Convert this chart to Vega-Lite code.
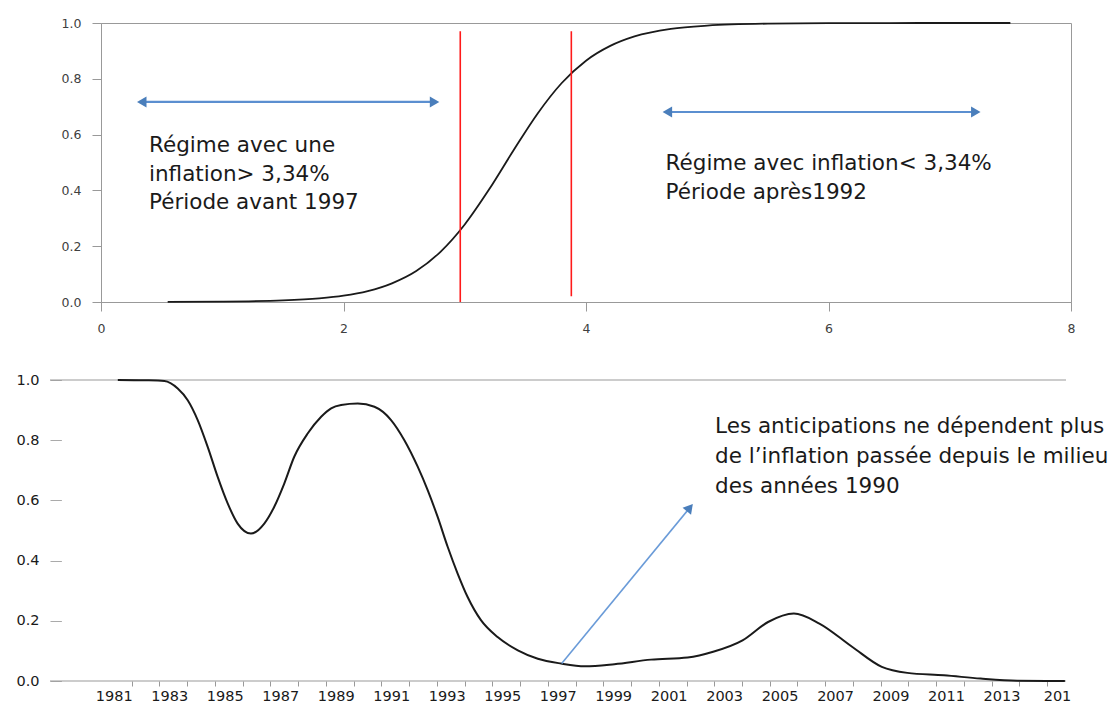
{
  "$schema": "https://vega.github.io/schema/vega-lite/v6.json",
  "background": "white",
  "padding": {"left": 5, "top": 16, "right": 0, "bottom": 0},
  "spacing": 37,
  "config": {
    "font": "DejaVu Sans",
    "axis": {"grid": false, "title": null, "labelFont": "DejaVu Sans"}
  },
  "datasets": {
    "sigmoid": [
      {"x": 0.55, "p": 0.0004}, {"x": 1.0, "p": 0.0014}, {"x": 1.5, "p": 0.0057},
      {"x": 1.8, "p": 0.013}, {"x": 2.0, "p": 0.0225}, {"x": 2.2, "p": 0.039},
      {"x": 2.4, "p": 0.067}, {"x": 2.6, "p": 0.111}, {"x": 2.8, "p": 0.18},
      {"x": 3.0, "p": 0.278}, {"x": 3.2, "p": 0.403}, {"x": 3.4, "p": 0.542},
      {"x": 3.6, "p": 0.675}, {"x": 3.8, "p": 0.785}, {"x": 4.0, "p": 0.865},
      {"x": 4.2, "p": 0.918}, {"x": 4.4, "p": 0.952}, {"x": 4.7, "p": 0.979},
      {"x": 5.0, "p": 0.9907}, {"x": 5.5, "p": 0.9977}, {"x": 6.0, "p": 0.9994},
      {"x": 6.5, "p": 0.9999}, {"x": 7.0, "p": 1.0}, {"x": 7.5, "p": 1.0}
    ],
    "thresholds": [
      {"x": 2.963, "y0": 0.0, "y1": 0.97},
      {"x": 3.879, "y0": 0.021, "y1": 0.97}
    ],
    "topArrows": [
      {"x0": 0.336, "x1": 2.751, "y": 0.717},
      {"x0": 4.671, "x1": 7.215, "y": 0.681}
    ],
    "topHeads": [
      {"x": 0.336, "y": 0.717, "dir": "left"},
      {"x": 2.751, "y": 0.717, "dir": "right"},
      {"x": 4.671, "y": 0.681, "dir": "left"},
      {"x": 7.215, "y": 0.681, "dir": "right"}
    ],
    "topText": [
      {"x": 0.396, "y": 0.538, "label": "Régime avec une\ninflation> 3,34%\nPériode avant 1997"},
      {"x": 4.656, "y": 0.473, "label": "Régime avec inflation< 3,34%\nPériode après1992"}
    ],
    "prob": [
      {"year": 1981.0, "p": 1.0}, {"year": 1982.0, "p": 0.999}, {"year": 1982.68, "p": 0.997},
      {"year": 1983.16, "p": 0.972}, {"year": 1983.52, "p": 0.933}, {"year": 1983.88, "p": 0.867},
      {"year": 1984.24, "p": 0.778}, {"year": 1984.6, "p": 0.678}, {"year": 1984.96, "p": 0.59},
      {"year": 1985.32, "p": 0.523}, {"year": 1985.8, "p": 0.49}, {"year": 1986.28, "p": 0.523},
      {"year": 1986.64, "p": 0.579}, {"year": 1987.0, "p": 0.656}, {"year": 1987.36, "p": 0.745},
      {"year": 1987.85, "p": 0.823}, {"year": 1988.33, "p": 0.878}, {"year": 1988.69, "p": 0.906},
      {"year": 1989.05, "p": 0.917}, {"year": 1989.65, "p": 0.922}, {"year": 1990.25, "p": 0.911},
      {"year": 1990.85, "p": 0.867}, {"year": 1991.33, "p": 0.8}, {"year": 1991.81, "p": 0.712},
      {"year": 1992.17, "p": 0.634}, {"year": 1992.53, "p": 0.545}, {"year": 1992.89, "p": 0.446},
      {"year": 1993.25, "p": 0.357}, {"year": 1993.61, "p": 0.279}, {"year": 1994.09, "p": 0.202},
      {"year": 1994.69, "p": 0.146}, {"year": 1995.42, "p": 0.102}, {"year": 1996.14, "p": 0.074},
      {"year": 1996.98, "p": 0.058}, {"year": 1997.84, "p": 0.049}, {"year": 1998.9, "p": 0.056},
      {"year": 2000.22, "p": 0.071}, {"year": 2001.54, "p": 0.078}, {"year": 2002.46, "p": 0.097},
      {"year": 2003.52, "p": 0.135}, {"year": 2004.44, "p": 0.196}, {"year": 2005.37, "p": 0.224},
      {"year": 2006.29, "p": 0.191}, {"year": 2007.48, "p": 0.113}, {"year": 2008.54, "p": 0.047},
      {"year": 2009.46, "p": 0.027}, {"year": 2010.78, "p": 0.019}, {"year": 2012.1, "p": 0.008},
      {"year": 2013.42, "p": 0.001}, {"year": 2015.14, "p": 0.0}
    ],
    "hlines": [
      {"x0": 1978.556, "x1": 2015.18, "y": 1},
      {"x0": 1978.556, "x1": 2015.18, "y": 0}
    ],
    "bottomArrow": [{"x0": 1997.0, "y0": 0.058, "x1": 2001.62, "y1": 0.576}],
    "bottomHead": [{"x": 2001.62, "y": 0.576}],
    "bottomText": [
      {"x": 2002.53, "y": 0.825, "label": "Les anticipations ne dépendent plus\nde l’inflation passée depuis le milieu\ndes années 1990"}
    ]
  },
  "vconcat": [
    {
      "width": 970,
      "height": 279,
      "view": {"stroke": "#999999", "strokeWidth": 1},
      "layer": [
        {
          "data": {"name": "sigmoid"},
          "mark": {"type": "line", "color": "#1a1a1a", "strokeWidth": 1.8, "interpolate": "monotone"},
          "encoding": {
            "x": {
              "field": "x", "type": "quantitative",
              "scale": {"domain": [0, 8], "nice": false, "zero": false},
              "axis": {
                "values": [0, 2, 4, 6, 8], "format": "d",
                "tickSize": 9, "tickColor": "#999999", "domainColor": "#999999",
                "labelFontSize": 12.5, "labelColor": "#404040", "labelPadding": 11,
                "labelFlush": false
              }
            },
            "y": {
              "field": "p", "type": "quantitative",
              "scale": {"domain": [0, 1], "nice": false},
              "axis": {
                "values": [0, 0.2, 0.4, 0.6, 0.8, 1.0], "format": ".1f",
                "tickSize": 9, "tickColor": "#999999", "domainColor": "#999999",
                "labelFontSize": 12.5, "labelColor": "#404040", "labelPadding": 11,
                "minExtent": 95, "maxExtent": 95
              }
            }
          }
        },
        {
          "data": {"name": "thresholds"},
          "mark": {"type": "rule", "color": "#ff1a1a", "strokeWidth": 1.6},
          "encoding": {
            "x": {"field": "x", "type": "quantitative"},
            "y": {"field": "y0", "type": "quantitative"},
            "y2": {"field": "y1"}
          }
        },
        {
          "data": {"name": "topArrows"},
          "mark": {"type": "rule", "color": "#5b8fd0", "strokeWidth": 2.2},
          "encoding": {
            "x": {"field": "x0", "type": "quantitative"},
            "x2": {"field": "x1"},
            "y": {"field": "y", "type": "quantitative"}
          }
        },
        {
          "data": {"name": "topHeads"},
          "mark": {"type": "point", "filled": true, "color": "#4a7ebb", "size": 120, "opacity": 1},
          "encoding": {
            "x": {"field": "x", "type": "quantitative"},
            "y": {"field": "y", "type": "quantitative"},
            "shape": {
              "field": "dir", "type": "nominal",
              "scale": {"domain": ["left", "right"], "range": ["triangle-left", "triangle-right"]},
              "legend": null
            }
          }
        },
        {
          "data": {"name": "topText"},
          "mark": {
            "type": "text", "align": "left", "baseline": "alphabetic",
            "font": "DejaVu Sans", "fontSize": 21.5, "color": "#1a1a1a",
            "lineBreak": "\n", "lineHeight": 28.8
          },
          "encoding": {
            "x": {"field": "x", "type": "quantitative"},
            "y": {"field": "y", "type": "quantitative"},
            "text": {"field": "label"}
          }
        }
      ]
    },
    {
      "width": 965,
      "height": 301,
      "view": {"stroke": null},
      "resolve": {"scale": {"x": "shared", "y": "shared"}, "axis": {"x": "independent"}},
      "layer": [
        {
          "data": {"name": "hlines"},
          "mark": {"type": "rule", "color": "#999999", "strokeWidth": 1},
          "encoding": {
            "x": {
              "field": "x0", "type": "quantitative",
              "scale": {"domain": [1980.394, 2015.18], "nice": false, "zero": false},
              "axis": {
                "orient": "bottom",
                "values": [1981.5, 1982.5, 1983.5, 1984.5, 1985.5, 1986.5, 1987.5, 1988.5, 1989.5, 1990.5, 1991.5, 1992.5, 1993.5, 1994.5, 1995.5, 1996.5, 1997.5, 1998.5, 1999.5, 2000.5, 2001.5, 2002.5, 2003.5, 2004.5, 2005.5, 2006.5, 2007.5, 2008.5, 2009.5, 2010.5, 2011.5, 2012.5, 2013.5, 2014.5],
                "labels": false, "ticks": true, "tickSize": 5, "tickColor": "#999999",
                "domain": false
              }
            },
            "x2": {"field": "x1"},
            "y": {"field": "y", "type": "quantitative"}
          }
        },
        {
          "data": {"name": "prob"},
          "mark": {"type": "line", "color": "#1a1a1a", "strokeWidth": 2, "interpolate": "monotone"},
          "encoding": {
            "x": {
              "field": "year", "type": "quantitative",
              "axis": {
                "orient": "bottom",
                "values": [1981, 1983, 1985, 1987, 1989, 1991, 1993, 1995, 1997, 1999, 2001, 2003, 2005, 2007, 2009, 2011, 2013, 2015],
                "format": "d",
                "labelExpr": "datum.value == 2015 ? '201' : datum.label",
                "ticks": false, "tickSize": 0, "domain": false,
                "labelFontSize": 14.5, "labelColor": "#1a1a1a", "labelPadding": 8,
                "labelOffset": -4, "labelOverlap": false, "labelFlush": false, "labelBound": false
              }
            },
            "y": {
              "field": "p", "type": "quantitative",
              "scale": {"domain": [0, 1], "nice": false},
              "axis": {
                "values": [0, 0.2, 0.4, 0.6, 0.8, 1.0], "format": ".1f",
                "offset": 51,
                "domain": false, "tickSize": -11.4, "tickColor": "#aaaaaa",
                "labelFontSize": 14.5, "labelColor": "#1a1a1a", "labelPadding": 22.4
              }
            }
          }
        },
        {
          "data": {"name": "bottomArrow"},
          "mark": {"type": "rule", "color": "#6a9bd8", "strokeWidth": 1.6},
          "encoding": {
            "x": {"field": "x0", "type": "quantitative", "axis": null},
            "y": {"field": "y0", "type": "quantitative"},
            "x2": {"field": "x1"},
            "y2": {"field": "y1"}
          }
        },
        {
          "data": {"name": "bottomHead"},
          "mark": {"type": "point", "filled": true, "color": "#4a7ebb", "size": 120, "shape": "triangle-up", "angle": 39.4, "opacity": 1},
          "encoding": {
            "x": {"field": "x", "type": "quantitative", "axis": null},
            "y": {"field": "y", "type": "quantitative"}
          }
        },
        {
          "data": {"name": "bottomText"},
          "mark": {
            "type": "text", "align": "left", "baseline": "alphabetic",
            "font": "DejaVu Sans", "fontSize": 21.5, "color": "#1a1a1a",
            "lineBreak": "\n", "lineHeight": 30
          },
          "encoding": {
            "x": {"field": "x", "type": "quantitative", "axis": null},
            "y": {"field": "y", "type": "quantitative"},
            "text": {"field": "label"}
          }
        }
      ]
    }
  ]
}
